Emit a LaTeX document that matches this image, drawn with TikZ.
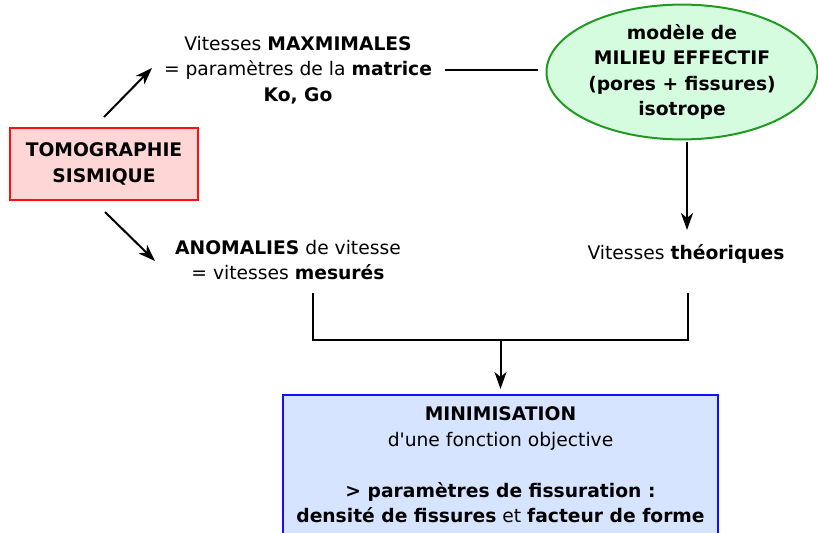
\documentclass[tikz,border=0pt]{standalone}
\usepackage{fontspec}
\setmainfont{DejaVu Sans}
\usetikzlibrary{arrows.meta,shapes.geometric}
\definecolor{pinkfill}{HTML}{FFD6D6}
\definecolor{redline}{HTML}{FF1010}
\definecolor{greenfill}{HTML}{D6FCE0}
\definecolor{greenline}{HTML}{229A22}
\definecolor{bluefill}{HTML}{D6E4FF}
\definecolor{blueline}{HTML}{1010FF}
\begin{document}
\begin{tikzpicture}[x=1pt,y=-1pt,
  every node/.style={font=\fontsize{18.7}{25.5}\selectfont, align=center, inner sep=0pt},
  conn/.style={line width=2pt, draw=black},
  arr/.style={conn, -{Stealth[length=17pt,width=12pt,inset=5pt]}},
  tomobox/.style={draw=redline, fill=pinkfill, line width=2pt, minimum width=188pt, minimum height=72pt},
  ellnode/.style={ellipse, draw=greenline, fill=greenfill, line width=2pt, minimum width=271pt, minimum height=118pt},
  minibox/.style={draw=blueline, fill=bluefill, line width=2pt, minimum width=435pt, minimum height=140pt}
]
\useasboundingbox (0,0) rectangle (818,532);
\node[tomobox] (tomo) at (104,164) {\textbf{TOMOGRAPHIE}\\\textbf{SISMIQUE}};
\node (vmax) at (298,70) {Vitesses \textbf{MAXMIMALES}\\= paramètres de la \textbf{matrice}\\\textbf{Ko, Go}};
\node[ellnode] (ell) at (682,72) {\textbf{modèle de}\\\textbf{MILIEU EFFECTIF}\\\textbf{(pores + fissures)}\\\textbf{isotrope}};
\node (vth) at (686,254) {Vitesses \textbf{théoriques}};
\node (anom) at (288,260) {\textbf{ANOMALIES} de vitesse\\= vitesses \textbf{mesurés}};
\node[minibox] (mini) at (500.5,465) {\textbf{MINIMISATION}\\d\textquotesingle une fonction objective\\[25.5pt]\textbf{> paramètres de fissuration :}\\\textbf{densité de fissures} et \textbf{facteur de forme}};
\coordinate (a1s) at (104,117);
\coordinate (a1e) at (152,68);
\coordinate (a2s) at (105,212);
\coordinate (a2e) at (155,261);
\coordinate (l1s) at (445,70);
\coordinate (l1e) at (538,70);
\coordinate (a3s) at (687,142);
\coordinate (a3e) at (687,230);
\coordinate (jl) at (313,293);
\coordinate (jr) at (688,293);
\coordinate (jm) at (500.5,340);
\draw[arr] (a1s) -- (a1e);
\draw[arr] (a2s) -- (a2e);
\draw[conn] (l1s) -- (l1e);
\draw[arr] (a3s) -- (a3e);
\draw[conn] (jl) |- (jm) -| (jr);
\draw[arr, shorten >=5pt] (jm) -- (mini.north);
\end{tikzpicture}
\end{document}
